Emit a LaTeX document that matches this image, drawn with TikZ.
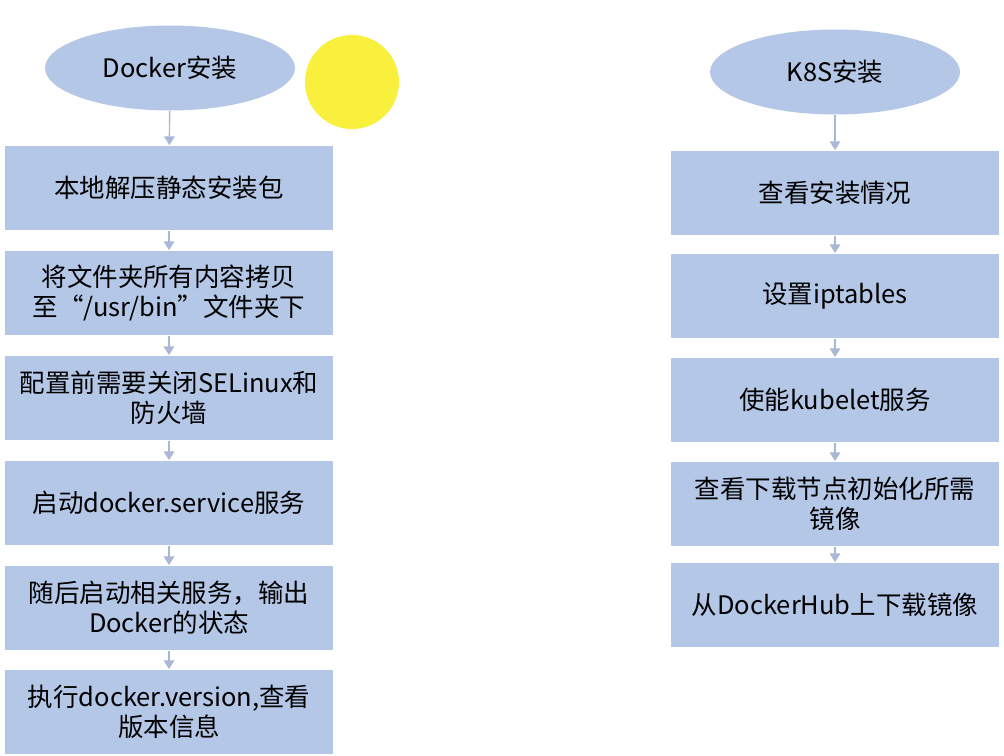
\documentclass[tikz,border=0pt]{standalone}
\usepackage{fontspec}
\setmainfont{Noto Sans CJK SC}
\usetikzlibrary{arrows.meta,shapes.geometric}
\definecolor{boxblue}{HTML}{B4C7E7}
\definecolor{arrowc}{HTML}{A9B8D6}
\definecolor{hl}{HTML}{F8F03C}
\begin{document}
\begin{tikzpicture}[x=0.02cm,y=-0.02cm,
  stepbox/.style={fill=boxblue,draw=none,minimum width=6.56cm,minimum height=1.7cm,align=center,inner sep=2pt,font=\fontsize{14.5}{17}\selectfont},
  startnode/.style={ellipse,fill=boxblue,draw=none,minimum width=5cm,minimum height=1.7cm,font=\fontsize{14.5}{17}\selectfont},
  conn/.style={draw=arrowc,line width=0.8pt,-{Triangle[length=5pt,width=6pt]}}]
\useasboundingbox (0,0) rectangle (1004,756);
\fill[white] (0,0) rectangle (1004,756);
\fill[hl] (352,82) circle (47);
\node[startnode] (d0) at (170,68) {Docker安装};
\node[stepbox] (d1) at (169,188) {本地解压静态安装包};
\node[stepbox] (d2) at (169,293) {将文件夹所有内容拷贝\\至“/usr/bin”文件夹下};
\node[stepbox] (d3) at (169,398) {配置前需要关闭SELinux和\\防火墙};
\node[stepbox] (d4) at (169,503) {启动docker.service服务};
\node[stepbox] (d5) at (169,608) {随后启动相关服务，输出\\Docker的状态};
\node[stepbox] (d6) at (169,712) {执行docker.version,查看\\版本信息};
\node[startnode] (k0) at (835,72) {K8S安装};
\node[stepbox] (k1) at (835,193) {查看安装情况};
\node[stepbox] (k2) at (835,296) {设置iptables};
\node[stepbox] (k3) at (835,400) {使能kubelet服务};
\node[stepbox] (k4) at (835,504) {查看下载节点初始化所需\\镜像};
\node[stepbox] (k5) at (835,605) {从DockerHub上下载镜像};
\foreach \a/\b in {d0/d1,d1/d2,d2/d3,d3/d4,d4/d5,d5/d6,k0/k1,k1/k2,k2/k3,k3/k4,k4/k5}
  \draw[conn] (\a) -- (\b);
\end{tikzpicture}
\end{document}
